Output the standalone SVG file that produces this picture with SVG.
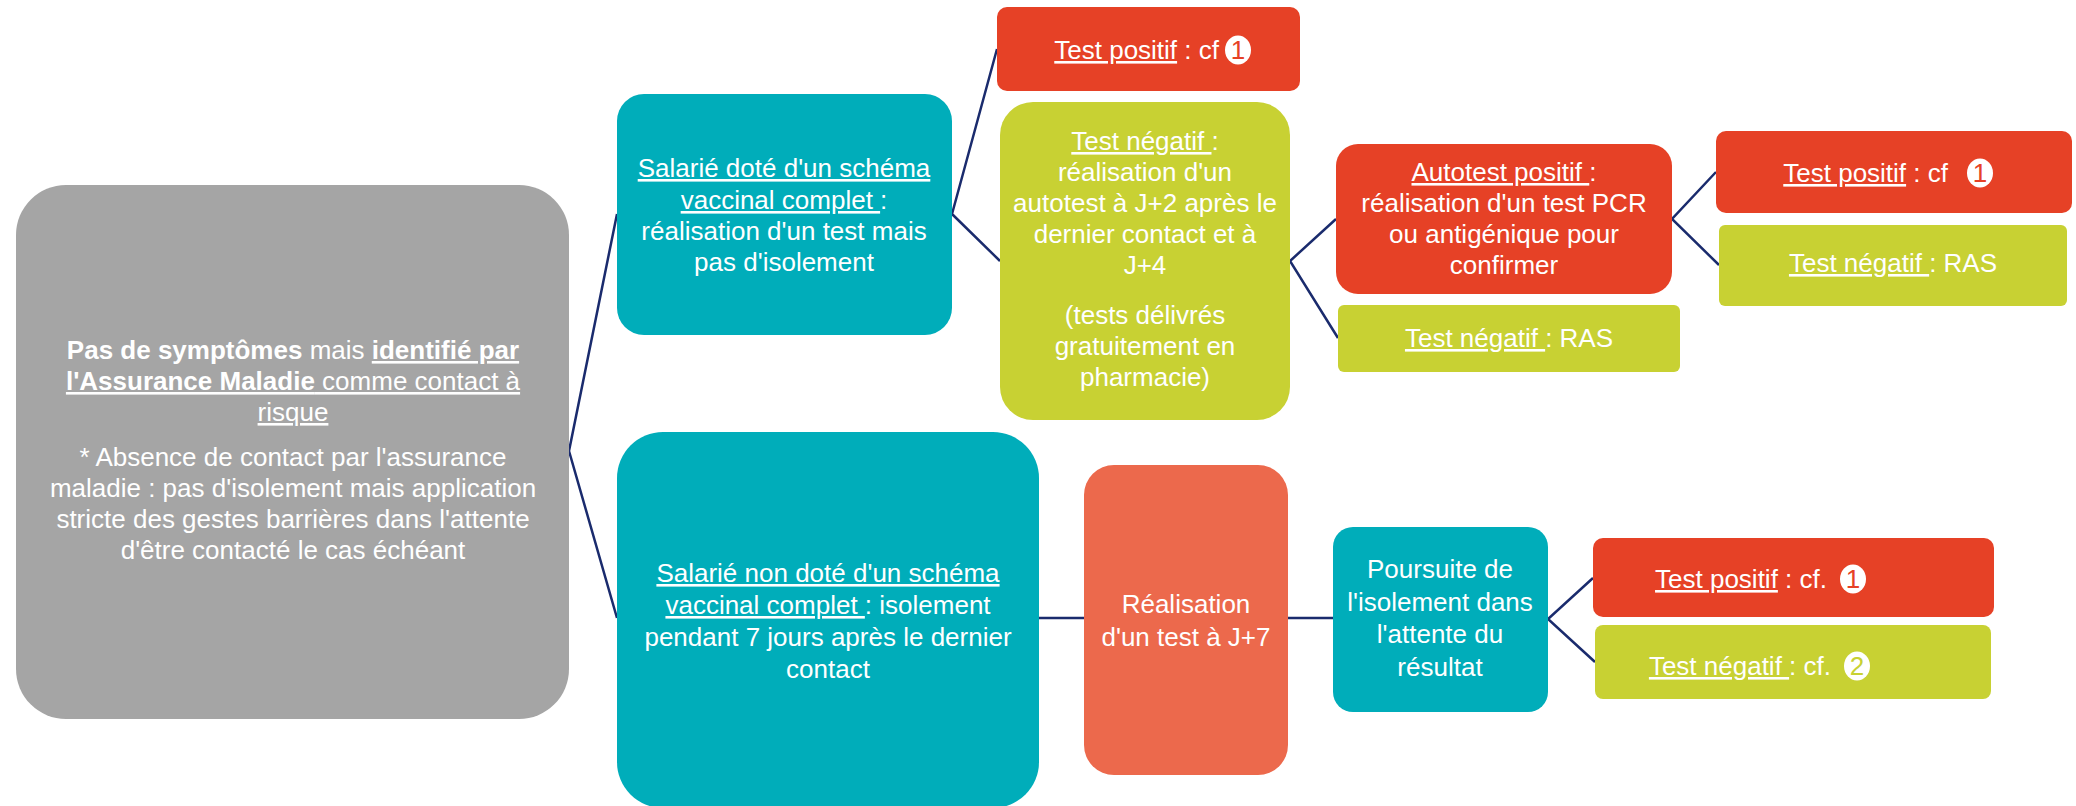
<svg xmlns="http://www.w3.org/2000/svg" width="2076" height="806" viewBox="0 0 2076 806">
<style>
text{font-family:"Liberation Sans",Arial,sans-serif;font-size:26px;fill:#fff;text-anchor:middle}
.u{text-decoration:underline}
.b{font-weight:bold}
.gray{fill:#A5A5A5}
.teal{fill:#00ADBA}
.red{fill:#E64126}
.grn{fill:#C8D133}
.org{fill:#EC694C}
.badge{fill:#fff}
.d1{fill:#E64126}
.d2{fill:#C8D133}
.conn line,.conn polyline{stroke:#1A2B6D;stroke-width:2.5;fill:none}
</style>
<g class="conn" id="connectors">
<polyline points="617,214 569,451 617,618"/>
<polyline points="997,49 952,214 1000,261"/>
<polyline points="1336,219 1290,261 1338,338"/>
<polyline points="1716,172 1672,219 1719,265"/>
<line x1="1039" y1="618" x2="1084" y2="618"/>
<line x1="1288" y1="618" x2="1333" y2="618"/>
<polyline points="1593,578 1548,619 1595,662"/>
</g>
<g id="n-root">
<rect class="gray" x="16" y="185" width="553" height="534" rx="50"/>
<text x="293" y="359"><tspan class="b">Pas de symptômes</tspan> mais <tspan class="b u">identifié par</tspan></text>
<text x="293" y="390"><tspan class="b u">l'Assurance Maladie</tspan><tspan class="u"> comme contact à</tspan></text>
<text x="293" y="421"><tspan class="u">risque</tspan></text>
<text x="293" y="466">* Absence de contact par l'assurance</text>
<text x="293" y="497">maladie : pas d'isolement mais application</text>
<text x="293" y="528">stricte des gestes barrières dans l'attente</text>
<text x="293" y="559">d'être contacté le cas échéant</text>
</g>
<g id="n-vacc">
<rect class="teal" x="617" y="94" width="335" height="241" rx="27"/>
<text x="784" y="177"><tspan class="u">Salarié doté d'un schéma</tspan></text>
<text x="784" y="209"><tspan class="u">vaccinal complet </tspan>:</text>
<text x="784" y="240">réalisation d'un test mais</text>
<text x="784" y="271">pas d'isolement</text>
</g>
<g id="n-pos1">
<rect class="red" x="997" y="7" width="303" height="84" rx="10"/>
<text x="1219" y="59" style="text-anchor:end"><tspan class="u">Test positif</tspan> : cf</text>
<ellipse class="badge" cx="1238" cy="50" rx="13" ry="14.5"/>
<text x="1238" y="59" class="d1">1</text>
</g>
<g id="n-neg1">
<rect class="grn" x="1000" y="102" width="290" height="318" rx="33"/>
<text x="1145" y="150"><tspan class="u">Test négatif </tspan>:</text>
<text x="1145" y="181">réalisation d'un</text>
<text x="1145" y="212">autotest à J+2 après le</text>
<text x="1145" y="243">dernier contact et à</text>
<text x="1145" y="274">J+4</text>
<text x="1145" y="324">(tests délivrés</text>
<text x="1145" y="355">gratuitement en</text>
<text x="1145" y="386">pharmacie)</text>
</g>
<g id="n-auto">
<rect class="red" x="1336" y="144" width="336" height="150" rx="22"/>
<text x="1504" y="181"><tspan class="u">Autotest positif </tspan>:</text>
<text x="1504" y="212">réalisation d'un test PCR</text>
<text x="1504" y="243">ou antigénique pour</text>
<text x="1504" y="274">confirmer</text>
</g>
<g id="n-ras1">
<rect class="grn" x="1338" y="305" width="342" height="67" rx="6"/>
<text x="1509" y="347"><tspan class="u">Test négatif </tspan>: RAS</text>
</g>
<g id="n-pos2">
<rect class="red" x="1716" y="131" width="356" height="82" rx="10"/>
<text x="1948" y="182" style="text-anchor:end"><tspan class="u">Test positif</tspan> : cf</text>
<ellipse class="badge" cx="1980" cy="173" rx="13" ry="14.5"/>
<text x="1980" y="182" class="d1">1</text>
</g>
<g id="n-ras2">
<rect class="grn" x="1719" y="225" width="348" height="81" rx="6"/>
<text x="1893" y="272"><tspan class="u">Test négatif </tspan>: RAS</text>
</g>
<g id="n-nonvacc">
<rect class="teal" x="617" y="432" width="422" height="376" rx="46"/>
<text x="828" y="582"><tspan class="u">Salarié non doté d'un schéma</tspan></text>
<text x="828" y="614"><tspan class="u">vaccinal complet </tspan>: isolement</text>
<text x="828" y="646">pendant 7 jours après le dernier</text>
<text x="828" y="678">contact</text>
</g>
<g id="n-j7">
<rect class="org" x="1084" y="465" width="204" height="310" rx="30"/>
<text x="1186" y="613">Réalisation</text>
<text x="1186" y="646">d'un test à J+7</text>
</g>
<g id="n-pours">
<rect class="teal" x="1333" y="527" width="215" height="185" rx="20"/>
<text x="1440" y="578">Poursuite de</text>
<text x="1440" y="611">l'isolement dans</text>
<text x="1440" y="643">l'attente du</text>
<text x="1440" y="676">résultat</text>
</g>
<g id="n-pos3">
<rect class="red" x="1593" y="538" width="401" height="79" rx="10"/>
<text x="1827" y="588" style="text-anchor:end"><tspan class="u">Test positif</tspan> : cf.</text>
<ellipse class="badge" cx="1853" cy="579" rx="13" ry="14.5"/>
<text x="1853" y="588" class="d1">1</text>
</g>
<g id="n-neg3">
<rect class="grn" x="1595" y="625" width="396" height="74" rx="8"/>
<text x="1831" y="675" style="text-anchor:end"><tspan class="u">Test négatif </tspan>: cf.</text>
<ellipse class="badge" cx="1857" cy="666" rx="13" ry="14.5"/>
<text x="1857" y="675" class="d2">2</text>
</g>
</svg>
